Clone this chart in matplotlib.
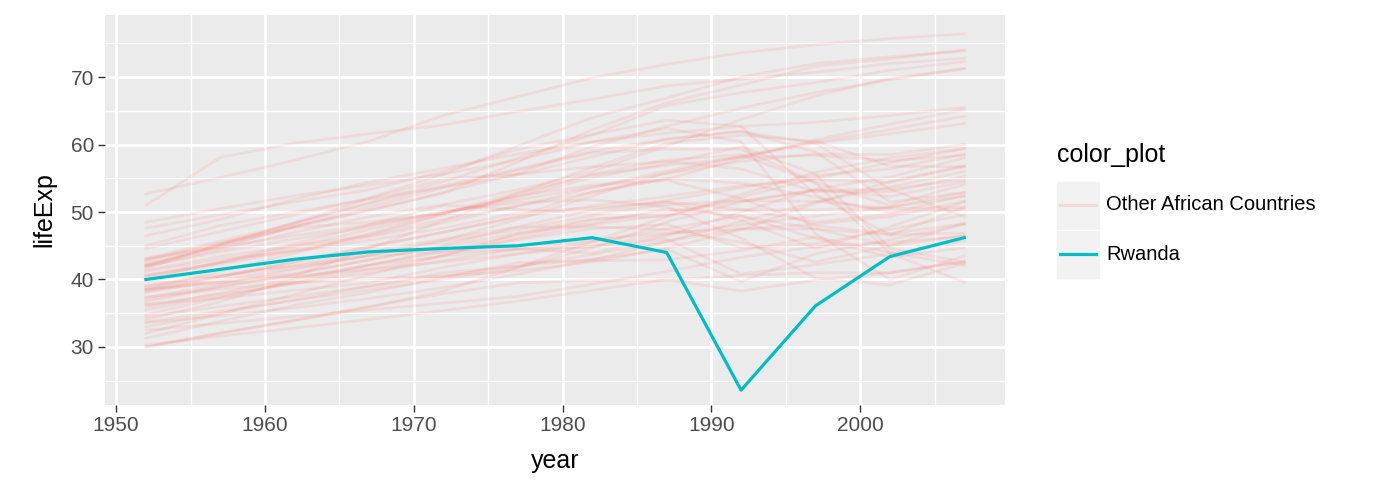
import numpy as np
import matplotlib.pyplot as plt
from matplotlib.lines import Line2D
from matplotlib.patches import Rectangle

rc = plt.rcParams
rc['font.family'] = ['Liberation Sans', 'DejaVu Sans']

years = [1952, 1957, 1962, 1967, 1972, 1977, 1982, 1987, 1992, 1997, 2002, 2007]

# life expectancy of the other African countries
others = {
    "Algeria": [43.1, 45.7, 48.3, 51.4, 54.5, 58.0, 61.4, 65.8, 67.7, 69.2, 71.0, 72.3],
    "Angola": [30.0, 32.0, 34.0, 36.0, 37.9, 39.5, 39.9, 39.9, 40.6, 41.0, 41.0, 42.7],
    "Benin": [38.2, 40.4, 42.6, 44.9, 47.0, 49.2, 50.9, 52.3, 53.9, 54.8, 54.4, 56.7],
    "Botswana": [47.6, 49.6, 51.5, 53.3, 56.0, 59.3, 61.5, 63.6, 62.7, 52.6, 46.6, 50.7],
    "Burkina Faso": [32.0, 34.9, 37.8, 40.7, 43.6, 46.1, 48.1, 49.6, 50.3, 50.3, 50.7, 52.3],
    "Burundi": [39.0, 40.5, 42.0, 43.5, 44.1, 45.9, 47.5, 48.2, 44.7, 45.3, 47.4, 49.6],
    "Cameroon": [38.5, 40.4, 42.6, 44.8, 47.0, 49.4, 53.0, 55.0, 54.3, 52.2, 49.9, 50.4],
    "CAR": [35.5, 37.5, 39.5, 41.5, 43.5, 46.8, 48.3, 50.5, 49.4, 46.1, 43.3, 44.7],
    "Chad": [38.1, 39.9, 41.7, 43.6, 45.6, 47.4, 49.5, 51.1, 51.7, 51.6, 50.5, 50.7],
    "Comoros": [40.7, 42.5, 44.5, 46.5, 48.9, 50.9, 52.9, 54.9, 57.9, 60.7, 63.0, 65.2],
    "Congo DR": [39.1, 40.7, 42.1, 44.1, 46.0, 47.8, 47.8, 47.4, 45.5, 42.6, 45.0, 46.5],
    "Congo Rep": [42.1, 45.1, 48.4, 52.0, 54.9, 55.6, 56.7, 57.5, 56.4, 53.0, 53.0, 55.3],
    "Cote d'Ivoire": [40.5, 42.5, 44.9, 47.4, 49.8, 52.4, 54.0, 54.7, 52.0, 48.0, 46.8, 48.3],
    "Djibouti": [34.8, 37.3, 39.7, 42.1, 44.4, 46.5, 48.8, 50.0, 51.6, 53.2, 53.4, 54.8],
    "Egypt": [41.9, 44.4, 47.0, 49.3, 51.1, 53.3, 56.0, 59.8, 63.7, 67.2, 69.8, 71.3],
    "Equatorial Guinea": [34.5, 36.0, 37.5, 39.0, 40.5, 42.0, 43.7, 45.7, 47.5, 48.2, 49.3, 51.6],
    "Eritrea": [35.9, 38.0, 40.2, 42.2, 44.1, 44.5, 43.9, 46.5, 50.0, 53.4, 55.2, 58.0],
    "Ethiopia": [34.1, 36.7, 40.1, 42.1, 43.5, 44.5, 44.9, 46.7, 48.1, 49.4, 50.7, 52.9],
    "Gabon": [37.0, 39.0, 40.5, 44.6, 48.7, 52.8, 56.6, 60.2, 61.4, 60.5, 56.8, 56.7],
    "Gambia": [30.0, 32.1, 33.9, 35.9, 38.3, 41.8, 45.6, 49.3, 52.6, 55.9, 58.0, 59.4],
    "Ghana": [43.1, 44.8, 46.5, 48.1, 49.9, 51.8, 53.7, 55.7, 57.5, 58.6, 58.5, 60.0],
    "Guinea": [33.6, 34.6, 35.8, 37.2, 38.8, 40.8, 42.9, 45.6, 48.6, 51.5, 53.7, 56.0],
    "Guinea-Bissau": [32.5, 33.5, 34.5, 35.5, 36.5, 37.5, 39.3, 41.2, 43.3, 44.9, 45.5, 46.4],
    "Kenya": [42.3, 44.7, 47.9, 50.7, 53.6, 56.2, 58.8, 59.3, 59.3, 54.4, 51.0, 54.1],
    "Lesotho": [42.1, 45.0, 47.7, 48.5, 49.8, 52.2, 55.1, 57.2, 59.7, 55.6, 44.6, 42.6],
    "Liberia": [38.5, 39.5, 40.5, 41.5, 42.6, 43.8, 44.9, 46.0, 40.8, 42.2, 43.8, 45.7],
    "Libya": [42.7, 45.3, 47.8, 50.2, 52.8, 57.4, 62.2, 66.2, 68.8, 71.6, 72.7, 74.0],
    "Madagascar": [36.7, 38.9, 40.8, 42.9, 44.9, 46.9, 49.0, 49.4, 52.2, 55.0, 57.3, 59.4],
    "Malawi": [36.3, 37.2, 38.4, 39.5, 41.8, 43.8, 45.6, 47.5, 49.4, 47.5, 45.0, 48.3],
    "Mali": [33.7, 35.3, 36.9, 38.5, 40.0, 41.7, 44.7, 48.5, 51.5, 53.3, 52.3, 54.5],
    "Mauritania": [40.5, 42.3, 44.2, 46.3, 48.4, 50.9, 53.6, 56.1, 58.3, 60.4, 62.2, 64.2],
    "Mauritius": [51.0, 58.1, 60.2, 61.6, 62.9, 64.9, 66.7, 68.7, 69.7, 70.7, 72.0, 72.8],
    "Morocco": [42.9, 45.4, 47.9, 50.3, 52.9, 55.7, 59.7, 62.7, 65.4, 67.7, 69.6, 71.2],
    "Mozambique": [31.3, 33.8, 36.2, 38.1, 40.3, 42.5, 42.8, 42.9, 44.3, 46.3, 44.0, 42.1],
    "Namibia": [41.7, 45.2, 48.4, 51.2, 53.9, 56.4, 59.0, 60.8, 62.0, 58.9, 51.5, 52.9],
    "Niger": [37.4, 38.6, 39.5, 40.1, 40.5, 41.3, 42.6, 44.6, 47.4, 51.3, 54.5, 56.9],
    "Nigeria": [36.3, 37.8, 39.4, 41.0, 42.8, 44.5, 45.8, 46.9, 47.5, 47.5, 46.6, 46.9],
    "Reunion": [52.7, 55.1, 57.7, 60.5, 64.3, 67.1, 69.9, 71.9, 73.6, 74.8, 75.7, 76.4],
    "Sao Tome and Principe": [46.5, 48.9, 51.9, 54.4, 56.5, 58.6, 60.4, 61.7, 62.7, 63.3, 64.3, 65.5],
    "Senegal": [37.3, 39.3, 41.5, 43.6, 45.8, 48.9, 52.4, 55.8, 58.2, 60.2, 61.6, 63.1],
    "Sierra Leone": [30.3, 31.6, 32.8, 34.1, 35.4, 36.8, 38.4, 40.0, 38.3, 39.9, 41.0, 42.6],
    "Somalia": [33.0, 35.0, 37.0, 39.0, 41.0, 42.0, 43.0, 44.5, 39.7, 43.8, 45.9, 48.2],
    "South Africa": [45.0, 48.0, 50.0, 51.9, 53.7, 55.5, 58.2, 60.8, 61.9, 60.2, 53.4, 49.3],
    "Sudan": [38.6, 39.6, 40.9, 42.9, 45.1, 47.8, 50.3, 51.7, 53.6, 55.4, 56.4, 58.6],
    "Swaziland": [41.4, 43.4, 45.0, 46.6, 49.6, 52.5, 55.6, 57.7, 58.5, 54.3, 43.9, 39.6],
    "Tanzania": [41.2, 43.0, 44.2, 45.8, 47.6, 49.9, 50.6, 51.5, 50.4, 48.5, 49.7, 52.5],
    "Togo": [38.6, 41.2, 43.9, 46.8, 49.8, 52.9, 55.5, 56.9, 58.1, 58.4, 57.6, 58.4],
    "Tunisia": [44.6, 47.1, 49.6, 52.1, 55.6, 59.8, 64.0, 66.9, 70.0, 72.0, 73.0, 73.9],
    "Uganda": [40.0, 42.6, 45.3, 48.1, 51.0, 50.4, 49.8, 51.5, 48.8, 44.6, 47.8, 51.5],
    "Zambia": [42.0, 44.1, 46.0, 47.8, 50.1, 51.4, 51.8, 50.8, 46.1, 40.2, 39.2, 42.4],
    "Zimbabwe": [48.5, 50.5, 52.4, 54.0, 55.6, 57.7, 60.4, 62.4, 60.4, 46.8, 40.0, 43.5],
}
rwanda = [40.0, 41.5, 43.0, 44.1, 44.6, 45.0, 46.2, 44.0, 23.6, 36.1, 43.4, 46.2]

red = '#F8766D'
teal = '#00BFC4'

fig = plt.figure(figsize=(14, 5), dpi=100)
ax = fig.add_axes([0.075, 0.19, 0.643, 0.78])
ax.set_facecolor('#EBEBEB')

for name, vals in others.items():
    ax.plot(years, vals, color=red, alpha=0.13, lw=2)
ax.plot(years, rwanda, color=teal, lw=2.3)

ax.set_xlim(1949.25, 2009.75)
ax.set_ylim(21.4, 79.2)
ax.set_xticks([1950, 1960, 1970, 1980, 1990, 2000])
ax.set_xticks([1955, 1965, 1975, 1985, 1995, 2005], minor=True)
ax.set_yticks([30, 40, 50, 60, 70])
ax.set_yticks([25, 35, 45, 55, 65, 75], minor=True)
ax.grid(which='major', color='white', lw=2)
ax.grid(which='minor', color='white', lw=1)
ax.set_axisbelow(True)
for s in ax.spines.values():
    s.set_visible(False)
ax.tick_params(which='major', length=5, color='#333333', labelsize=15,
               labelcolor='#4D4D4D', width=1, pad=3)
ax.tick_params(which='minor', length=0)
ax.set_xlabel('year', fontsize=18, labelpad=10)
ax.set_ylabel('lifeExp', fontsize=18, labelpad=10)

# legend
fig.text(0.755, 0.69, 'color_plot', fontsize=18, va='center')
for i, (lab, col, al) in enumerate([('Other African Countries', red, 0.2),
                                    ('Rwanda', teal, 1.0)]):
    y0 = 0.59 - i * 0.098
    fig.patches.append(Rectangle((0.755, y0 - 0.047), 0.03, 0.094,
                                 transform=fig.transFigure, color='#F2F2F2'))
    fig.lines.append(Line2D([0.757, 0.783], [y0, y0], transform=fig.transFigure,
                            color=col, alpha=al, lw=2.3))
    fig.text(0.79, y0, lab, fontsize=14.5, va='center')

fig.savefig('out.png', dpi=100)
